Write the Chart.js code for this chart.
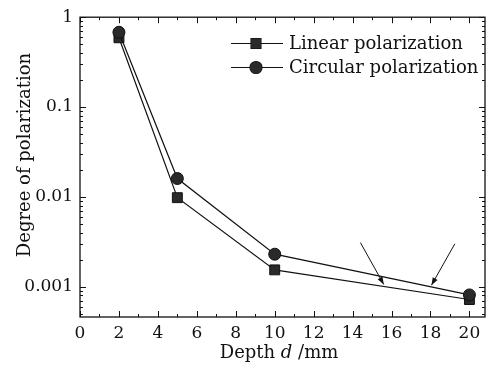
<!DOCTYPE html>
<html>
<head>
<meta charset="utf-8">
<script src="https://cdn.jsdelivr.net/npm/chart.js@4.4.0/dist/chart.umd.min.js"></script>
<style>
html,body{margin:0;padding:0;background:#fff;}
canvas{display:block;}
</style>
</head>
<body>
<canvas id="c" width="493" height="368"></canvas>
<script>
const depth = [2, 5, 10, 20];
const linearPol = [0.59, 0.0098, 0.00154, 0.00072];
const circularPol = [0.68, 0.016, 0.0023, 0.00081];
const xTickValues = [0, 2, 4, 6, 8, 10, 12, 14, 16, 18, 20];
const xMinorValues = [1, 3, 5, 7, 9, 11, 13, 15, 17, 19];
const yTickValues = [1, 0.1, 0.01, 0.001];
const seriesNames = ['Linear polarization', 'Circular polarization'];
const xTitle = ['Depth ', 'd', ' /mm'];
const yTitle = 'Degree of polarization';
// annotation arrows in data coordinates: [x0, y0, x1, y1]
const arrowsData = [[14.4, 0.0031, 15.6, 0.00106], [19.25, 0.0030, 18.05, 0.00104]];

const FONT = '"DejaVu Serif", serif';
const INK = '#111';

const decorPlugin = {
  id: 'decor',
  afterDatasetsDraw(chart) {
    const ctx = chart.ctx;
    const a = chart.chartArea;
    const xs = chart.scales.x, ys = chart.scales.y;
    ctx.save();
    ctx.strokeStyle = INK;
    ctx.lineWidth = 1.3;
    ctx.strokeRect(a.left, a.top, a.right - a.left, a.bottom - a.top);
    ctx.lineWidth = 1;
    ctx.beginPath();
    const tickX = (v, len) => {
      const p = Math.round(xs.getPixelForValue(v)) + 0.5;
      ctx.moveTo(p, a.bottom); ctx.lineTo(p, a.bottom - len);
      ctx.moveTo(p, a.top); ctx.lineTo(p, a.top + len);
    };
    xTickValues.forEach(v => tickX(v, 6));
    xMinorValues.forEach(v => tickX(v, 3));
    const tickY = (v, len) => {
      const p = Math.round(ys.getPixelForValue(v)) + 0.5;
      ctx.moveTo(a.left, p); ctx.lineTo(a.left + len, p);
      ctx.moveTo(a.right, p); ctx.lineTo(a.right - len, p);
    };
    yTickValues.forEach(v => tickY(v, 6));
    yTickValues.forEach(d => {
      for (let k = 2; k <= 9; k++) {
        const v = d * k / 10;
        if (v >= ys.min && v <= ys.max) tickY(v, 3);
      }
    });
    ctx.stroke();

    // arrows
    ctx.lineWidth = 1;
    arrowsData.forEach(([x0, y0, x1, y1]) => {
      const px0 = xs.getPixelForValue(x0), py0 = ys.getPixelForValue(y0);
      const px1 = xs.getPixelForValue(x1), py1 = ys.getPixelForValue(y1);
      ctx.beginPath();
      ctx.moveTo(px0, py0); ctx.lineTo(px1, py1); ctx.stroke();
      const ang = Math.atan2(py1 - py0, px1 - px0);
      const L = 8, W = 0.35;
      ctx.beginPath();
      ctx.moveTo(px1, py1);
      ctx.lineTo(px1 - L * Math.cos(ang - W), py1 - L * Math.sin(ang - W));
      ctx.lineTo(px1 - L * Math.cos(ang + W), py1 - L * Math.sin(ang + W));
      ctx.closePath();
      ctx.fillStyle = INK; ctx.fill();
    });

    // legend
    const styles = ['rect', 'circle'];
    const rows = [43, 67];
    ctx.font = '18px ' + FONT;
    ctx.textBaseline = 'middle';
    ctx.textAlign = 'left';
    rows.forEach((y, i) => {
      ctx.strokeStyle = INK; ctx.lineWidth = 1.2;
      ctx.beginPath(); ctx.moveTo(231, y + 0.5); ctx.lineTo(283, y + 0.5); ctx.stroke();
      ctx.fillStyle = '#2a2a2a';
      Chart.helpers.drawPoint(ctx, {pointStyle: styles[i], radius: i === 0 ? 7 : 6, borderWidth: 1}, 256, y + 0.5);
      ctx.fill();
      ctx.fillStyle = INK;
      ctx.fillText(seriesNames[i], 289, y + 1);
    });

    // x title with italic d
    ctx.textBaseline = 'alphabetic';
    const fN = '18px ' + FONT, fI = 'italic 18px ' + FONT;
    const parts = [[xTitle[0], fN], [xTitle[1], fI], [xTitle[2], fN]];
    let tw = 0;
    parts.forEach(([t, f]) => { ctx.font = f; tw += ctx.measureText(t).width; });
    let cx = 279 - tw / 2;
    parts.forEach(([t, f]) => { ctx.font = f; ctx.fillText(t, cx, 358); cx += ctx.measureText(t).width; });

    // y title
    ctx.save();
    ctx.translate(25, 155);
    ctx.rotate(-Math.PI / 2);
    ctx.font = fN;
    ctx.textAlign = 'center';
    ctx.textBaseline = 'middle';
    ctx.fillText(yTitle, 0, 0);
    ctx.restore();
    ctx.restore();
  }
};

new Chart(document.getElementById('c'), {
  type: 'line',
  data: {
    datasets: [
      {
        label: seriesNames[0],
        data: depth.map((d, i) => ({x: d, y: linearPol[i]})),
        borderColor: INK, borderWidth: 1.2,
        pointStyle: 'rect', pointRadius: 7,
        pointBackgroundColor: '#2a2a2a', pointBorderColor: '#111', pointBorderWidth: 1,
        tension: 0, order: 1
      },
      {
        label: seriesNames[1],
        data: depth.map((d, i) => ({x: d, y: circularPol[i]})),
        borderColor: INK, borderWidth: 1.2,
        pointStyle: 'circle', pointRadius: 6,
        pointBackgroundColor: '#2a2a2a', pointBorderColor: '#111', pointBorderWidth: 1,
        tension: 0, order: 0
      }
    ]
  },
  options: {
    responsive: false,
    animation: false,
    devicePixelRatio: 1,
    layout: {padding: {left: 0, right: 3, top: 13, bottom: 0}},
    plugins: {legend: {display: false}, tooltip: {enabled: false}},
    scales: {
      x: {
        type: 'linear', min: 0, max: 20.8,
        afterBuildTicks: s => { s.ticks = xTickValues.map(v => ({value: v})); },
        afterFit: s => { s.height = 51; },
        grid: {display: false, drawTicks: false, tickLength: 0},
        border: {display: false},
        ticks: {color: INK, font: {family: FONT, size: 17}, padding: 6, maxRotation: 0, autoSkip: false, callback: v => String(v)}
      },
      y: {
        type: 'logarithmic', min: 0.00046, max: 1,
        afterBuildTicks: s => { s.ticks = yTickValues.map(v => ({value: v})); },
        afterFit: s => { s.width = 80; },
        grid: {display: false, drawTicks: false, tickLength: 0},
        border: {display: false},
        ticks: {color: INK, font: {family: FONT, size: 17}, padding: 7, autoSkip: false, callback: v => String(v)}
      }
    }
  },
  plugins: [decorPlugin]
});
</script>
</body>
</html>
